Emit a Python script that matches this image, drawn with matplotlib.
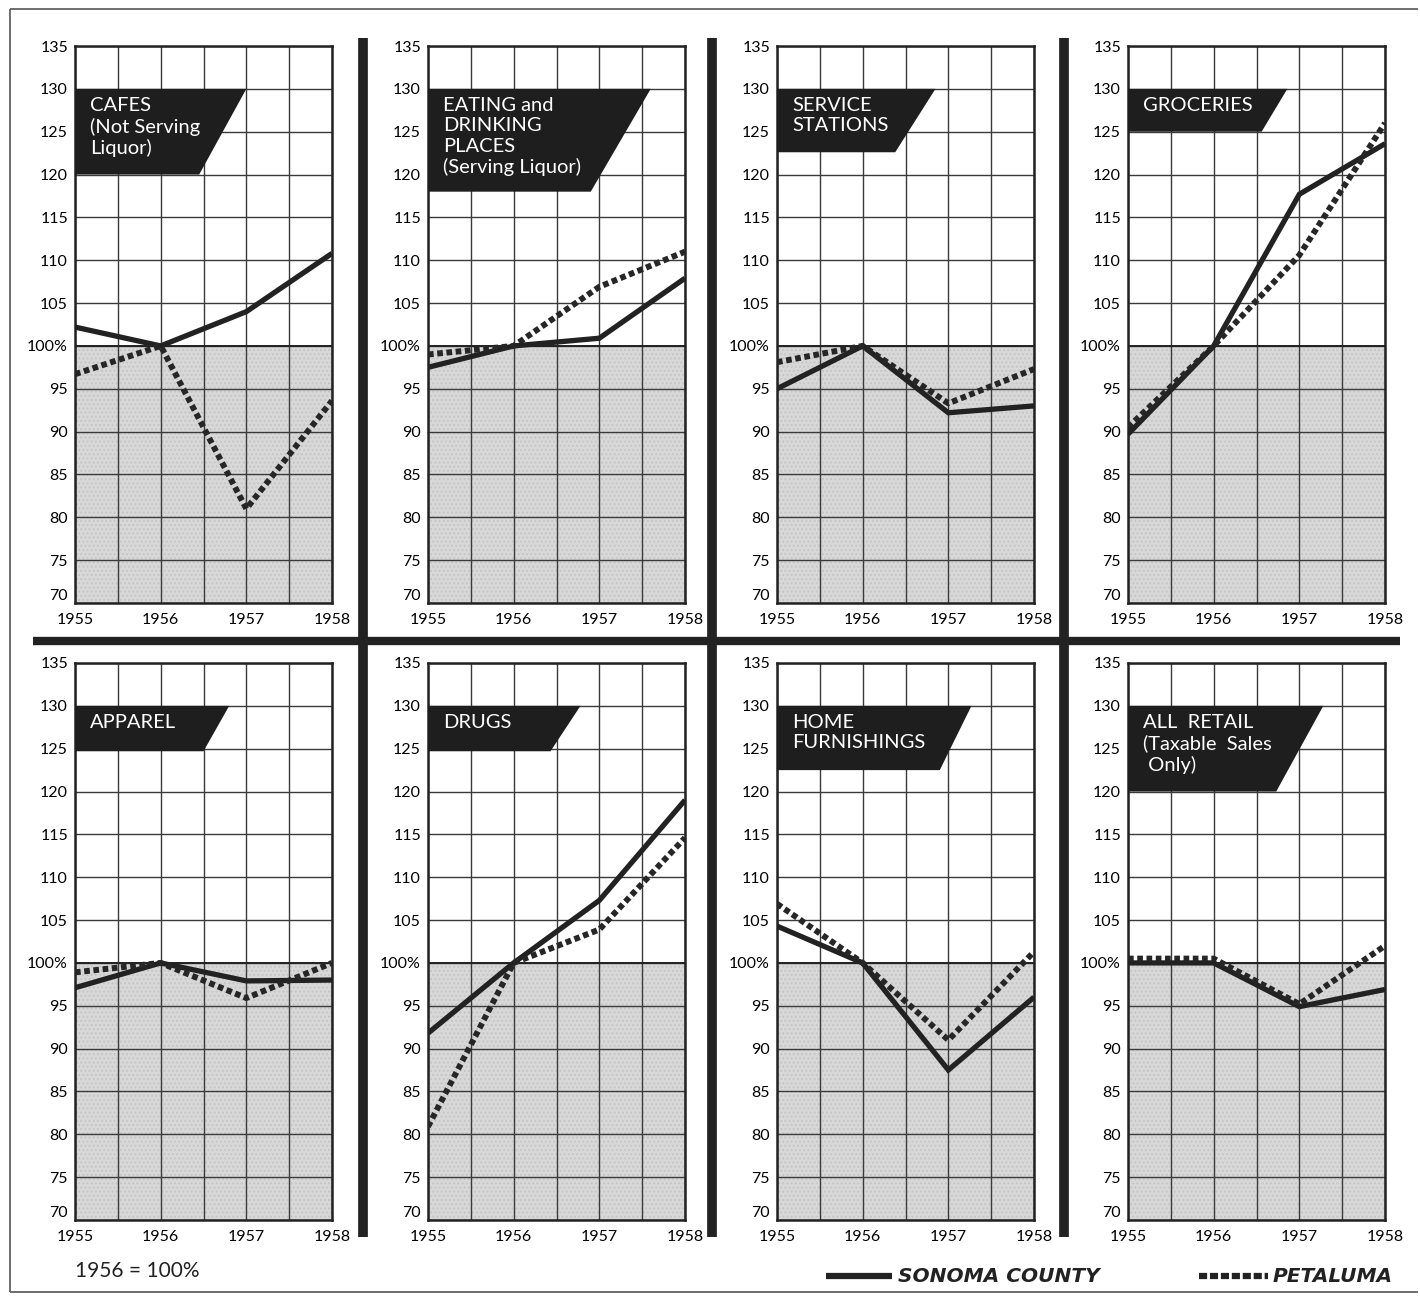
import matplotlib.pyplot as plt
from matplotlib.lines import Line2D
from matplotlib.patches import Polygon

plt.rcParams['font.family'] = ['Lato', 'DejaVu Sans']

# Index numbers, 1956 = 100
years = [1955, 1956, 1957, 1958]
y_ticks = [70, 75, 80, 85, 90, 95, 100, 105, 110, 115, 120, 125, 130, 135]
y_labels = ['70', '75', '80', '85', '90', '95', '100%', '105', '110', '115', '120', '125', '130', '135']

titles = [
    'CAFES\n(Not Serving\nLiquor)',
    'EATING and\nDRINKING\nPLACES\n(Serving Liquor)',
    'SERVICE\nSTATIONS',
    'GROCERIES',
    'APPAREL',
    'DRUGS',
    'HOME\nFURNISHINGS',
    'ALL  RETAIL\n(Taxable  Sales\n Only)',
]

cafes_sonoma = [102.2, 100, 104, 110.8]
cafes_petaluma = [96.7, 100, 81, 93.6]
eating_sonoma = [97.5, 100, 100.9, 107.9]
eating_petaluma = [99, 100, 106.9, 111]
service_sonoma = [95, 100, 92.2, 93]
service_petaluma = [98.1, 100, 93.3, 97.3]
groceries_sonoma = [89.7, 100, 117.7, 123.6]
groceries_petaluma = [90.5, 100, 110.6, 126]
apparel_sonoma = [97.1, 100, 97.9, 98]
apparel_petaluma = [98.9, 100, 95.9, 100]
drugs_sonoma = [91.8, 100, 107.3, 119]
drugs_petaluma = [80.9, 100, 103.9, 114.6]
home_sonoma = [104.3, 100, 87.5, 96]
home_petaluma = [106.9, 100, 91, 101.3]
retail_sonoma = [100, 100, 94.9, 96.9]
retail_petaluma = [100.5, 100.5, 95.2, 102]

sonoma = [cafes_sonoma, eating_sonoma, service_sonoma, groceries_sonoma,
          apparel_sonoma, drugs_sonoma, home_sonoma, retail_sonoma]
petaluma = [cafes_petaluma, eating_petaluma, service_petaluma, groceries_petaluma,
            apparel_petaluma, drugs_petaluma, home_petaluma, retail_petaluma]

# title box shape: (bottom value, top-right x, bottom-right x)
boxes = [(120, 1957.0, 1956.45), (118, 1957.6, 1956.9), (122.6, 1956.85, 1956.38),
         (125, 1956.86, 1956.56), (124.7, 1956.8, 1956.5), (124.7, 1956.78, 1956.43),
         (122.5, 1957.27, 1956.9), (120, 1957.28, 1956.73)]

W, H = 1420, 1296
fig = plt.figure(figsize=(W / 100, H / 100), dpi=100)


def px_rect(x0, y0, x1, y1):
    return [x0 / W, 1 - y1 / H, (x1 - x0) / W, (y1 - y0) / H]


col_left = [75, 428, 777, 1128]
row_top = [46, 663]
panel_w, panel_h = 257, 557

INK = '#222222'

for i in range(8):
    r, c = divmod(i, 4)
    x0, y0 = col_left[c], row_top[r]
    ax = fig.add_axes(px_rect(x0, y0, x0 + panel_w, y0 + panel_h))
    ax.set_xlim(1955, 1958)
    ax.set_ylim(70, 135)

    # shaded area below 100
    ax.axhspan(70, 100, facecolor='#d8d8d8', edgecolor='#c6c6c6', hatch='....',
               linewidth=0, zorder=0.2)
    ax.axhline(100, color=INK, lw=1.4, zorder=1)

    ax.set_xticks([1955, 1955.5, 1956, 1956.5, 1957, 1957.5, 1958])
    ax.set_xticklabels(['1955', '', '1956', '', '1957', '', '1958'], fontsize=11.5)
    ax.set_yticks(y_ticks)
    ax.set_yticklabels(y_labels, fontsize=11.5)
    ax.tick_params(length=0, pad=5)
    ax.tick_params(axis='x', pad=7)
    for lab in ax.get_yticklabels():
        if lab.get_text() == '70':
            lab.set_verticalalignment('bottom')
    ax.grid(True, color='#3a3a3a', lw=1.0)
    ax.set_axisbelow(True)
    for s in ax.spines.values():
        s.set_linewidth(1.8)
        s.set_color(INK)

    # title box
    bot, tr, br = boxes[i]
    ax.add_patch(Polygon([(1955, 130), (tr, 130), (br, bot), (1955, bot)],
                         closed=True, facecolor='#1e1e1e', edgecolor='none', zorder=3))
    ax.text(1955.18, 129.0, titles[i], color='white', fontsize=14.5, va='top',
            ha='left', linespacing=1.22, zorder=4)

    ax.plot(years, sonoma[i], color=INK, lw=3.8, solid_capstyle='butt',
            solid_joinstyle='miter', zorder=5)
    ax.plot(years, petaluma[i], color='#262626', lw=4.3, linestyle=(0, (0.95, 0.6)),
            dash_capstyle='butt', zorder=6)

# separators and frame
def fig_line(xs, ys, lw, color=INK):
    fig.add_artist(Line2D([x / W for x in xs], [1 - y / H for y in ys],
                          lw=lw, color=color, solid_capstyle='butt'))


fig_line([33, 1400], [641, 641], 6)
for xv in [363, 712, 1064]:
    fig_line([xv, xv], [38, 1237], 7)
fig_line([10, 1418], [9, 9], 1.2, '#555555')
fig_line([10, 10], [9, 1292], 1.2, '#555555')
fig_line([10, 1418], [1292, 1292], 1.2, '#555555')

fig.text(75 / W, 1 - 1271 / H, '1956 = 100%', fontsize=15, va='center', ha='left',
         color=INK)

legend_font = dict(fontsize=14.5, fontweight='bold', fontstyle='italic',
                   family=['DejaVu Sans'], va='center', ha='left', color=INK)
fig_line([826, 892], [1276, 1276], 4.5)
fig.text(898 / W, 1 - 1276 / H, 'SONOMA COUNTY', **legend_font)
fig.add_artist(Line2D([1199 / W, 1268 / W], [1 - 1276 / H] * 2, lw=4.5, color=INK,
                      linestyle=(0, (1.3, 0.45)), dash_capstyle='butt'))
fig.text(1273 / W, 1 - 1276 / H, 'PETALUMA', **legend_font)

fig.savefig('out.png', dpi=100, facecolor='white')
